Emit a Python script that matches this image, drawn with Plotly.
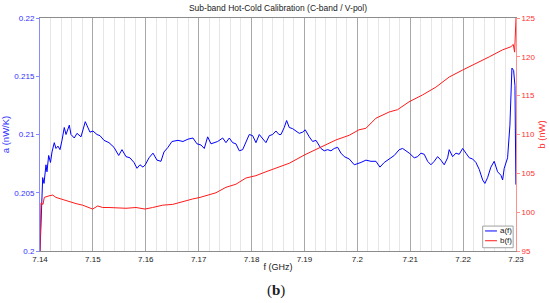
import plotly.graph_objects as go

# a(f) trace (nW/K)
f_a = [7.14000, 7.14009, 7.14019, 7.14051, 7.14076, 7.14113, 7.14132, 7.14164, 7.14198, 7.14227,
       7.14270, 7.14302, 7.14340, 7.14378, 7.14416, 7.14459, 7.14492, 7.14554, 7.14586, 7.14648,
       7.14699, 7.14775, 7.14856, 7.14907, 7.14945, 7.15002, 7.15077, 7.15134, 7.15210, 7.15304,
       7.15399, 7.15488, 7.15550, 7.15626, 7.15701, 7.15777, 7.15834, 7.15890, 7.15947, 7.15991,
       7.16061, 7.16136, 7.16212, 7.16287, 7.16344, 7.16420, 7.16495, 7.16609, 7.16703, 7.16798,
       7.16892, 7.16968, 7.17044, 7.17106, 7.17170, 7.17233, 7.17295, 7.17359, 7.17454, 7.17516,
       7.17579, 7.17643, 7.17705, 7.17768, 7.17832, 7.17894, 7.17957, 7.18021, 7.18083, 7.18146,
       7.18210, 7.18272, 7.18335, 7.18399, 7.18461, 7.18518, 7.18556, 7.18618, 7.18663, 7.18713,
       7.18777, 7.18839, 7.18902, 7.18966, 7.19015, 7.19091, 7.19155, 7.19218, 7.19312, 7.19374,
       7.19439, 7.19501, 7.19563, 7.19628, 7.19690, 7.19753, 7.19847, 7.19942, 7.20030, 7.20068,
       7.20163, 7.20257, 7.20352, 7.20427, 7.20509, 7.20603, 7.20698, 7.20792, 7.20857, 7.20919,
       7.20981, 7.21076, 7.21140, 7.21202, 7.21265, 7.21329, 7.21391, 7.21454, 7.21518, 7.21580,
       7.21643, 7.21707, 7.21737, 7.21802, 7.21864, 7.21926, 7.21991, 7.22053, 7.22116, 7.22180,
       7.22242, 7.22305, 7.22369, 7.22412, 7.22463, 7.22525, 7.22588, 7.22652, 7.22715, 7.22747,
       7.22777, 7.22841, 7.22885, 7.22923, 7.22955, 7.22980, 7.22998]
a_vals = [0.2000, 0.2010, 0.2025, 0.2063, 0.2058, 0.2074, 0.2068, 0.2082, 0.2076, 0.2085,
          0.2093, 0.2088, 0.2090, 0.2087, 0.2095, 0.2106, 0.2100, 0.2108, 0.2100, 0.2097,
          0.2101, 0.2098, 0.2111, 0.2106, 0.2102, 0.2103, 0.2100, 0.2099, 0.2095, 0.2093,
          0.2089, 0.2082, 0.2087, 0.2081, 0.2080, 0.2076, 0.2071, 0.2074, 0.2072, 0.2074,
          0.2080, 0.2084, 0.2078, 0.2077, 0.2085, 0.2089, 0.2094, 0.2095, 0.2094, 0.2096,
          0.2097, 0.2092, 0.2091, 0.2088, 0.2098, 0.2092, 0.2093, 0.2094, 0.2097, 0.2093,
          0.2097, 0.2093, 0.2092, 0.2086, 0.2087, 0.2093, 0.2100, 0.2099, 0.2093, 0.2100,
          0.2096, 0.2093, 0.2099, 0.2100, 0.2103, 0.2100, 0.2100, 0.2106, 0.2112, 0.2106,
          0.2105, 0.2103, 0.2101, 0.2102, 0.2104, 0.2098, 0.2094, 0.2095, 0.2088, 0.2086,
          0.2087, 0.2086, 0.2088, 0.2089, 0.2084, 0.2081, 0.2079, 0.2074, 0.2075, 0.2076,
          0.2078, 0.2077, 0.2077, 0.2072, 0.2076, 0.2079, 0.2082, 0.2087, 0.2088, 0.2086,
          0.2084, 0.2080, 0.2081, 0.2084, 0.2083, 0.2077, 0.2074, 0.2077, 0.2081, 0.2078,
          0.2074, 0.2080, 0.2087, 0.2081, 0.2084, 0.2083, 0.2088, 0.2084, 0.2080, 0.2079,
          0.2076, 0.2070, 0.2061, 0.2058, 0.2063, 0.2072, 0.2077, 0.2068, 0.2065, 0.2061,
          0.2071, 0.2080, 0.2108, 0.2157, 0.2155, 0.2142, 0.2057]

# b(f) trace (nW)
f_b = [7.14000, 7.14009, 7.14019, 7.14057, 7.14081, 7.14170, 7.14240, 7.14302, 7.14429, 7.14554,
       7.14681, 7.14807, 7.14932, 7.14996, 7.15091, 7.15185, 7.15304, 7.15493, 7.15626, 7.15815,
       7.15985, 7.16130, 7.16320, 7.16509, 7.16698, 7.16887, 7.17025, 7.17138, 7.17327, 7.17516,
       7.17705, 7.17894, 7.18083, 7.18272, 7.18537, 7.18713, 7.19010, 7.19274, 7.19596, 7.19847,
       7.20030, 7.20163, 7.20352, 7.20603, 7.20762, 7.20976, 7.21235, 7.21486, 7.21562, 7.21737,
       7.21991, 7.22242, 7.22494, 7.22747, 7.22904, 7.22948, 7.22974, 7.23000]
b_vals = [95.0, 99.0, 101.2, 101.0, 101.9, 102.1, 102.2, 101.9, 101.6, 101.3,
          101.1, 100.9, 100.6, 100.4, 100.8, 100.6, 100.6, 100.5, 100.5, 100.6,
          100.4, 100.6, 100.9, 101.0, 101.4, 101.7, 101.9, 102.1, 102.5, 103.2,
          103.6, 104.4, 104.7, 105.2, 105.8, 106.3, 107.4, 108.3, 109.3, 109.9,
          110.6, 110.8, 112.1, 112.9, 113.2, 114.2, 115.1, 116.1, 116.5, 117.4,
          118.3, 119.2, 120.0, 120.9, 121.3, 121.6, 120.6, 125.0]

x_ticks = [7.14, 7.15, 7.16, 7.17, 7.18, 7.19, 7.20, 7.21, 7.22, 7.23]
x_labels = ['7.14', '7.15', '7.16', '7.17', '7.18', '7.19', '7.2', '7.21', '7.22', '7.23']
a_ticks = [0.2, 0.205, 0.21, 0.215, 0.22]
a_labels = ['0.2', '0.205', '0.21', '0.215', '0.22']
b_ticks = [95, 100, 105, 110, 115, 120, 125]

BLUE = '#0000ff'
RED = '#ff1a1a'
FONT = 'Liberation Sans, Arial, sans-serif'

fig = go.Figure()
fig.add_trace(go.Scatter(x=f_a, y=a_vals, mode='lines', name='a(f)',
                         line=dict(color=BLUE, width=1), showlegend=False))
fig.add_trace(go.Scatter(x=f_b, y=b_vals, mode='lines', name='b(f)', yaxis='y2',
                         line=dict(color=RED, width=1), showlegend=False))

# small MATLAB-style legend box
fig.add_shape(type='rect', xref='paper', yref='paper', x0=0.930, x1=0.994, y0=0.014, y1=0.107,
              line=dict(color='#a0a0a0', width=1), fillcolor='white', layer='above')
fig.add_shape(type='line', xref='paper', yref='paper', x0=0.935, x1=0.960, y0=0.086, y1=0.086,
              line=dict(color=BLUE, width=1), layer='above')
fig.add_shape(type='line', xref='paper', yref='paper', x0=0.935, x1=0.960, y0=0.044, y1=0.044,
              line=dict(color=RED, width=1), layer='above')
for txt, yy in [('a(f)', 0.086), ('b(f)', 0.044)]:
    fig.add_annotation(text=txt, xref='paper', yref='paper', x=0.962, y=yy, xanchor='left',
                       yanchor='middle', showarrow=False, font=dict(size=8, color='#202020', family=FONT))

fig.add_annotation(text='(<b>b</b>)', xref='paper', yref='paper', x=0.495, y=-0.17,
                   xanchor='center', yanchor='middle', showarrow=False,
                   font=dict(size=15, color='#202020', family='Liberation Serif, Times New Roman, serif'))

fig.update_layout(
    width=550, height=303,
    margin=dict(l=40, r=34, t=18, b=52),
    paper_bgcolor='white', plot_bgcolor='white',
    font=dict(family=FONT, size=8, color='#202020'),
    title=dict(text='Sub-band Hot-Cold Calibration (C-band / V-pol)', x=0.5, xref='paper',
               y=0.975, yanchor='middle', font=dict(size=8.5, color='#202020')),
    xaxis=dict(range=[7.14, 7.23], tickvals=x_ticks, ticktext=x_labels, automargin=False,
               showgrid=True, gridcolor='#a8a8a8', gridwidth=1,
               minor=dict(dtick=0.002, tick0=7.14, showgrid=True, gridcolor='#e6e6e6', gridwidth=1),
               showline=True, linecolor='#8c8c8c', mirror=True, ticks='', zeroline=False,
               title=dict(text='f (GHz)', standoff=1, font=dict(size=9))),
    yaxis=dict(range=[0.2, 0.22], tickvals=a_ticks, ticktext=a_labels, showgrid=False,
               automargin=False, zeroline=False, showline=True, linecolor='#8a8aff',
               ticks='outside', ticklen=3, tickcolor='#8a8aff', tickfont=dict(color='#3030ff', size=8),
               title=dict(text='a (nW/K)', standoff=3, font=dict(color='#3030ff', size=9.5))),
    yaxis2=dict(range=[95, 125], tickvals=b_ticks, overlaying='y', side='right', showgrid=False,
                automargin=False, zeroline=False, showline=True, linecolor='#ff9090',
                ticks='outside', ticklen=3, tickcolor='#ff9090', tickfont=dict(color='#ff3030', size=8),
                title=dict(text='b (nW)', standoff=3, font=dict(color='#ff3030', size=9.5))),
)

# drop the default 8px page margin so the 550x303 figure fills the window exactly
fig.write_html('out.html', config={'displayModeBar': False},
               post_script="document.body.style.margin='0';")
